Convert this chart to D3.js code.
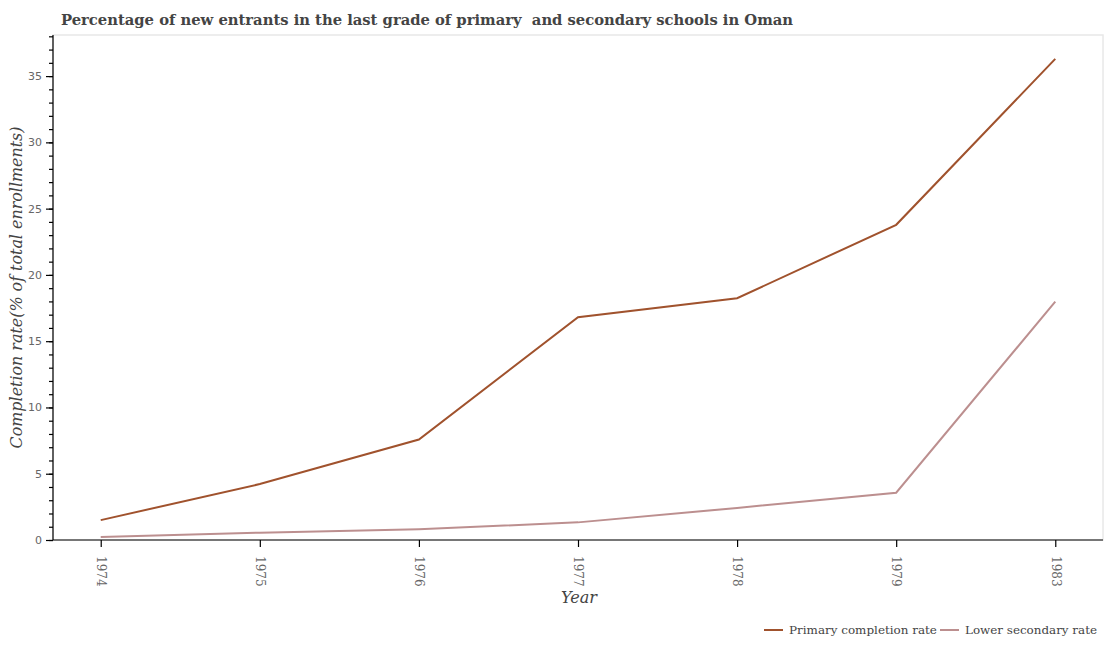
<!DOCTYPE html>
<html>
<head>
<meta charset="utf-8">
<script src="https://cdn.jsdelivr.net/npm/d3@7"></script>
<style>
  body { margin: 0; background: #fff; }
  text { font-family: "DejaVu Serif", serif; }
</style>
</head>
<body>
<svg id="chart" width="1108" height="650"></svg>
<script>
// chart values
const years = ["1974", "1975", "1976", "1977", "1978", "1979", "1983"];
const primaryRate = [1.5, 4.22, 7.58, 16.8, 18.24, 23.78, 36.3];
const lowerSecondaryRate = [0.22, 0.55, 0.81, 1.33, 2.42, 3.57, 17.98];
const yTicks = [0, 5, 10, 15, 20, 25, 30, 35];

const series = [
  { name: "Primary completion rate", values: primaryRate, color: "#a0522d" },
  { name: "Lower secondary rate", values: lowerSecondaryRate, color: "#bc8f8f" }
];

const margin = { top: 35, right: 5, bottom: 110, left: 53 };
const width = 1108, height = 650;
const svg = d3.select("#chart");

// scale a text element's font so that it is `target` px long
function fitText(sel, target) {
  const base = parseFloat(sel.style("font-size"));
  const len = sel.node().getComputedTextLength();
  sel.style("font-size", (base * target / len).toFixed(2) + "px");
}

const x = d3.scalePoint()
  .domain(years)
  .range([margin.left, width - margin.right])
  .padding(0.3);

const y = d3.scaleLinear()
  .domain([0, 38.1])
  .range([height - margin.bottom, margin.top]);

// plot frame
svg.append("rect")
  .attr("x", margin.left)
  .attr("y", margin.top)
  .attr("width", width - margin.left - margin.right)
  .attr("height", height - margin.top - margin.bottom)
  .attr("fill", "none")
  .attr("stroke", "#e8e8e8")
  .attr("stroke-width", 1.5);

// title
const title = svg.append("text")
  .attr("x", 61)
  .attr("y", 25)
  .attr("text-anchor", "start")
  .attr("xml:space", "preserve")
  .style("white-space", "pre")
  .style("font-size", "16px")
  .style("font-weight", "bold")
  .attr("fill", "#444")
  .text("Percentage of new entrants in the last grade of primary  and secondary schools in Oman");
fitText(title, 732);

// y axis: minor ticks every 1, major every 5
const yAxisG = svg.append("g").attr("transform", `translate(${margin.left},0)`);
yAxisG.call(d3.axisLeft(y).tickValues(d3.range(0, 39)).tickSize(4).tickFormat(""));
yAxisG.call(g => g.select(".domain").remove());
const yMajor = svg.append("g").attr("transform", `translate(${margin.left},0)`)
  .call(d3.axisLeft(y).tickValues(yTicks).tickSize(7).tickPadding(4));
yMajor.select(".domain").attr("d", `M0,${y(0)}V${margin.top}`).attr("stroke", "#000").attr("stroke-width", 1.2);
yMajor.selectAll(".tick text")
  .style("font-size", "11px")
  .attr("fill", "#666")
  .style("font-family", "DejaVu Sans, sans-serif");

// x axis
const xAxisG = svg.append("g")
  .attr("transform", `translate(0,${y(0)})`)
  .call(d3.axisBottom(x).tickSize(7).tickSizeOuter(0));
xAxisG.select(".domain").attr("d", `M${margin.left},0H${width - margin.right}`).attr("stroke", "#000").attr("stroke-width", 1.2);
xAxisG.selectAll(".tick text")
  .attr("transform", "rotate(90)")
  .attr("x", 16)
  .attr("y", 0)
  .attr("dy", "0.35em")
  .attr("text-anchor", "start")
  .style("font-size", "12px")
  .attr("fill", "#666");
svg.selectAll(".tick line").attr("stroke", "#000").attr("stroke-width", 1.2);

// axis titles
const xTitle = svg.append("text")
  .attr("x", 579)
  .attr("y", 603)
  .attr("text-anchor", "middle")
  .style("font-size", "16px")
  .style("font-style", "italic")
  .attr("fill", "#444")
  .text("Year");
fitText(xTitle, 36);

const yTitle = svg.append("text")
  .attr("transform", `translate(22,${(margin.top + y(0)) / 2}) rotate(-90)`)
  .attr("text-anchor", "middle")
  .style("font-size", "16px")
  .style("font-style", "italic")
  .attr("fill", "#444")
  .text("Completion rate(% of total enrollments)");
fitText(yTitle, 322);

// lines
const line = d3.line()
  .x((d, i) => x(years[i]))
  .y(d => y(d));

svg.append("g").selectAll("path.series")
  .data(series)
  .join("path")
  .attr("class", "series")
  .attr("d", d => line(d.values))
  .attr("fill", "none")
  .attr("stroke", d => d.color)
  .attr("stroke-width", 2);

// legend
const legendItems = [
  { x: 764, len: 148, s: series[0] },
  { x: 940, len: 132, s: series[1] }
];
const legend = svg.append("g");
legendItems.forEach(item => {
  legend.append("line")
    .attr("x1", item.x).attr("x2", item.x + 19)
    .attr("y1", 630).attr("y2", 630)
    .attr("stroke", item.s.color)
    .attr("stroke-width", 2);
  const t = legend.append("text")
    .attr("x", item.x + 25)
    .attr("y", 630)
    .attr("dy", "0.35em")
    .style("font-size", "12px")
    .attr("fill", "#444")
    .text(item.s.name);
  fitText(t, item.len);
});
</script>
</body>
</html>
